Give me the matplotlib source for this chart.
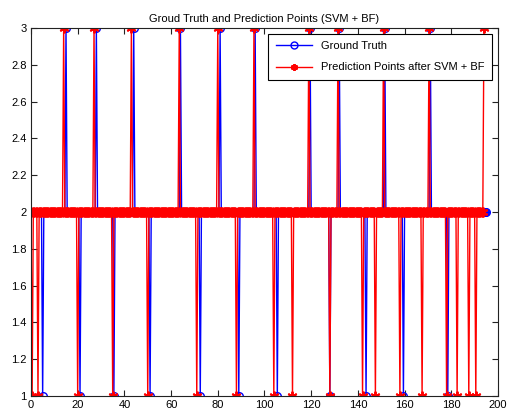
import matplotlib.pyplot as plt
import numpy as np

# sample grid (half-unit steps) and spike positions;
# every other sample sits at 2
step = 0.5
gt_end = 195
gt_up = [15, 28, 44, 64, 81, 96, 119.5, 132, 151.5, 171]
gt_down = [5, 21, 35.5, 51, 72.5, 89, 105.5, 128, 143.5, 159.5, 178.5]

pred_end = 194
pred_up = [14, 27, 43, 63.5, 80, 95.5, 119, 131.5, 151, 170.5, 194]
pred_down = [0.5, 3, 20, 35, 50, 71, 88, 104, 112, 128, 142, 147.5, 158, 167.5,
             178, 182.5, 187.5, 190.5]

x_gt = np.arange(0, gt_end + step / 2, step)
gt = np.full(x_gt.size, 2.0)
gt[np.round(np.array(gt_up) / step).astype(int)] = 3
gt[np.round(np.array(gt_down) / step).astype(int)] = 1

x_pred = np.arange(0, pred_end + step / 2, step)
pred = np.full(x_pred.size, 2.0)
pred[np.round(np.array(pred_up) / step).astype(int)] = 3
pred[np.round(np.array(pred_down) / step).astype(int)] = 1

plt.rcParams['font.family'] = ['Liberation Sans', 'DejaVu Sans']

fig = plt.figure(figsize=(5.07, 4.19), dpi=100)
ax = fig.add_axes([0.0611, 0.0549, 0.9211, 0.8783])

ax.plot(x_gt, gt, color='#0000ff', lw=1.0, marker='o', ms=5.5,
        mfc='none', mec='#0000ff', mew=1.0, label='Ground Truth')
ax.plot(x_pred, pred, color='#ff0000', lw=1.0, marker=(6, 2, 0), ms=7,
        mec='#ff0000', mew=1.4, label='Prediction Points after SVM + BF')

ax.set_xlim(0, 200)
ax.set_ylim(1, 3)
ax.set_xticks(np.arange(0, 201, 20))
ax.set_yticks(np.arange(1, 3.01, 0.2))
ax.set_yticklabels(['1', '1.2', '1.4', '1.6', '1.8', '2', '2.2', '2.4', '2.6', '2.8', '3'])
ax.tick_params(direction='in', length=4, width=0.8, top=True, right=True,
               labelsize=8, pad=3, color='#222222')
for s in ax.spines.values():
    s.set_linewidth(0.8)
    s.set_color('#222222')
ax.set_title('Groud Truth and Prediction Points (SVM + BF)', fontsize=8, pad=4)

leg = ax.legend(loc='upper right', fontsize=8, fancybox=False, framealpha=1,
                edgecolor='black', borderaxespad=0.5, handlelength=3.3,
                labelspacing=1.0, borderpad=0.7)
leg.get_frame().set_linewidth(0.8)
for h in leg.legend_handles:
    h.set_markersize(5)

fig.savefig('out.png', dpi=100)
